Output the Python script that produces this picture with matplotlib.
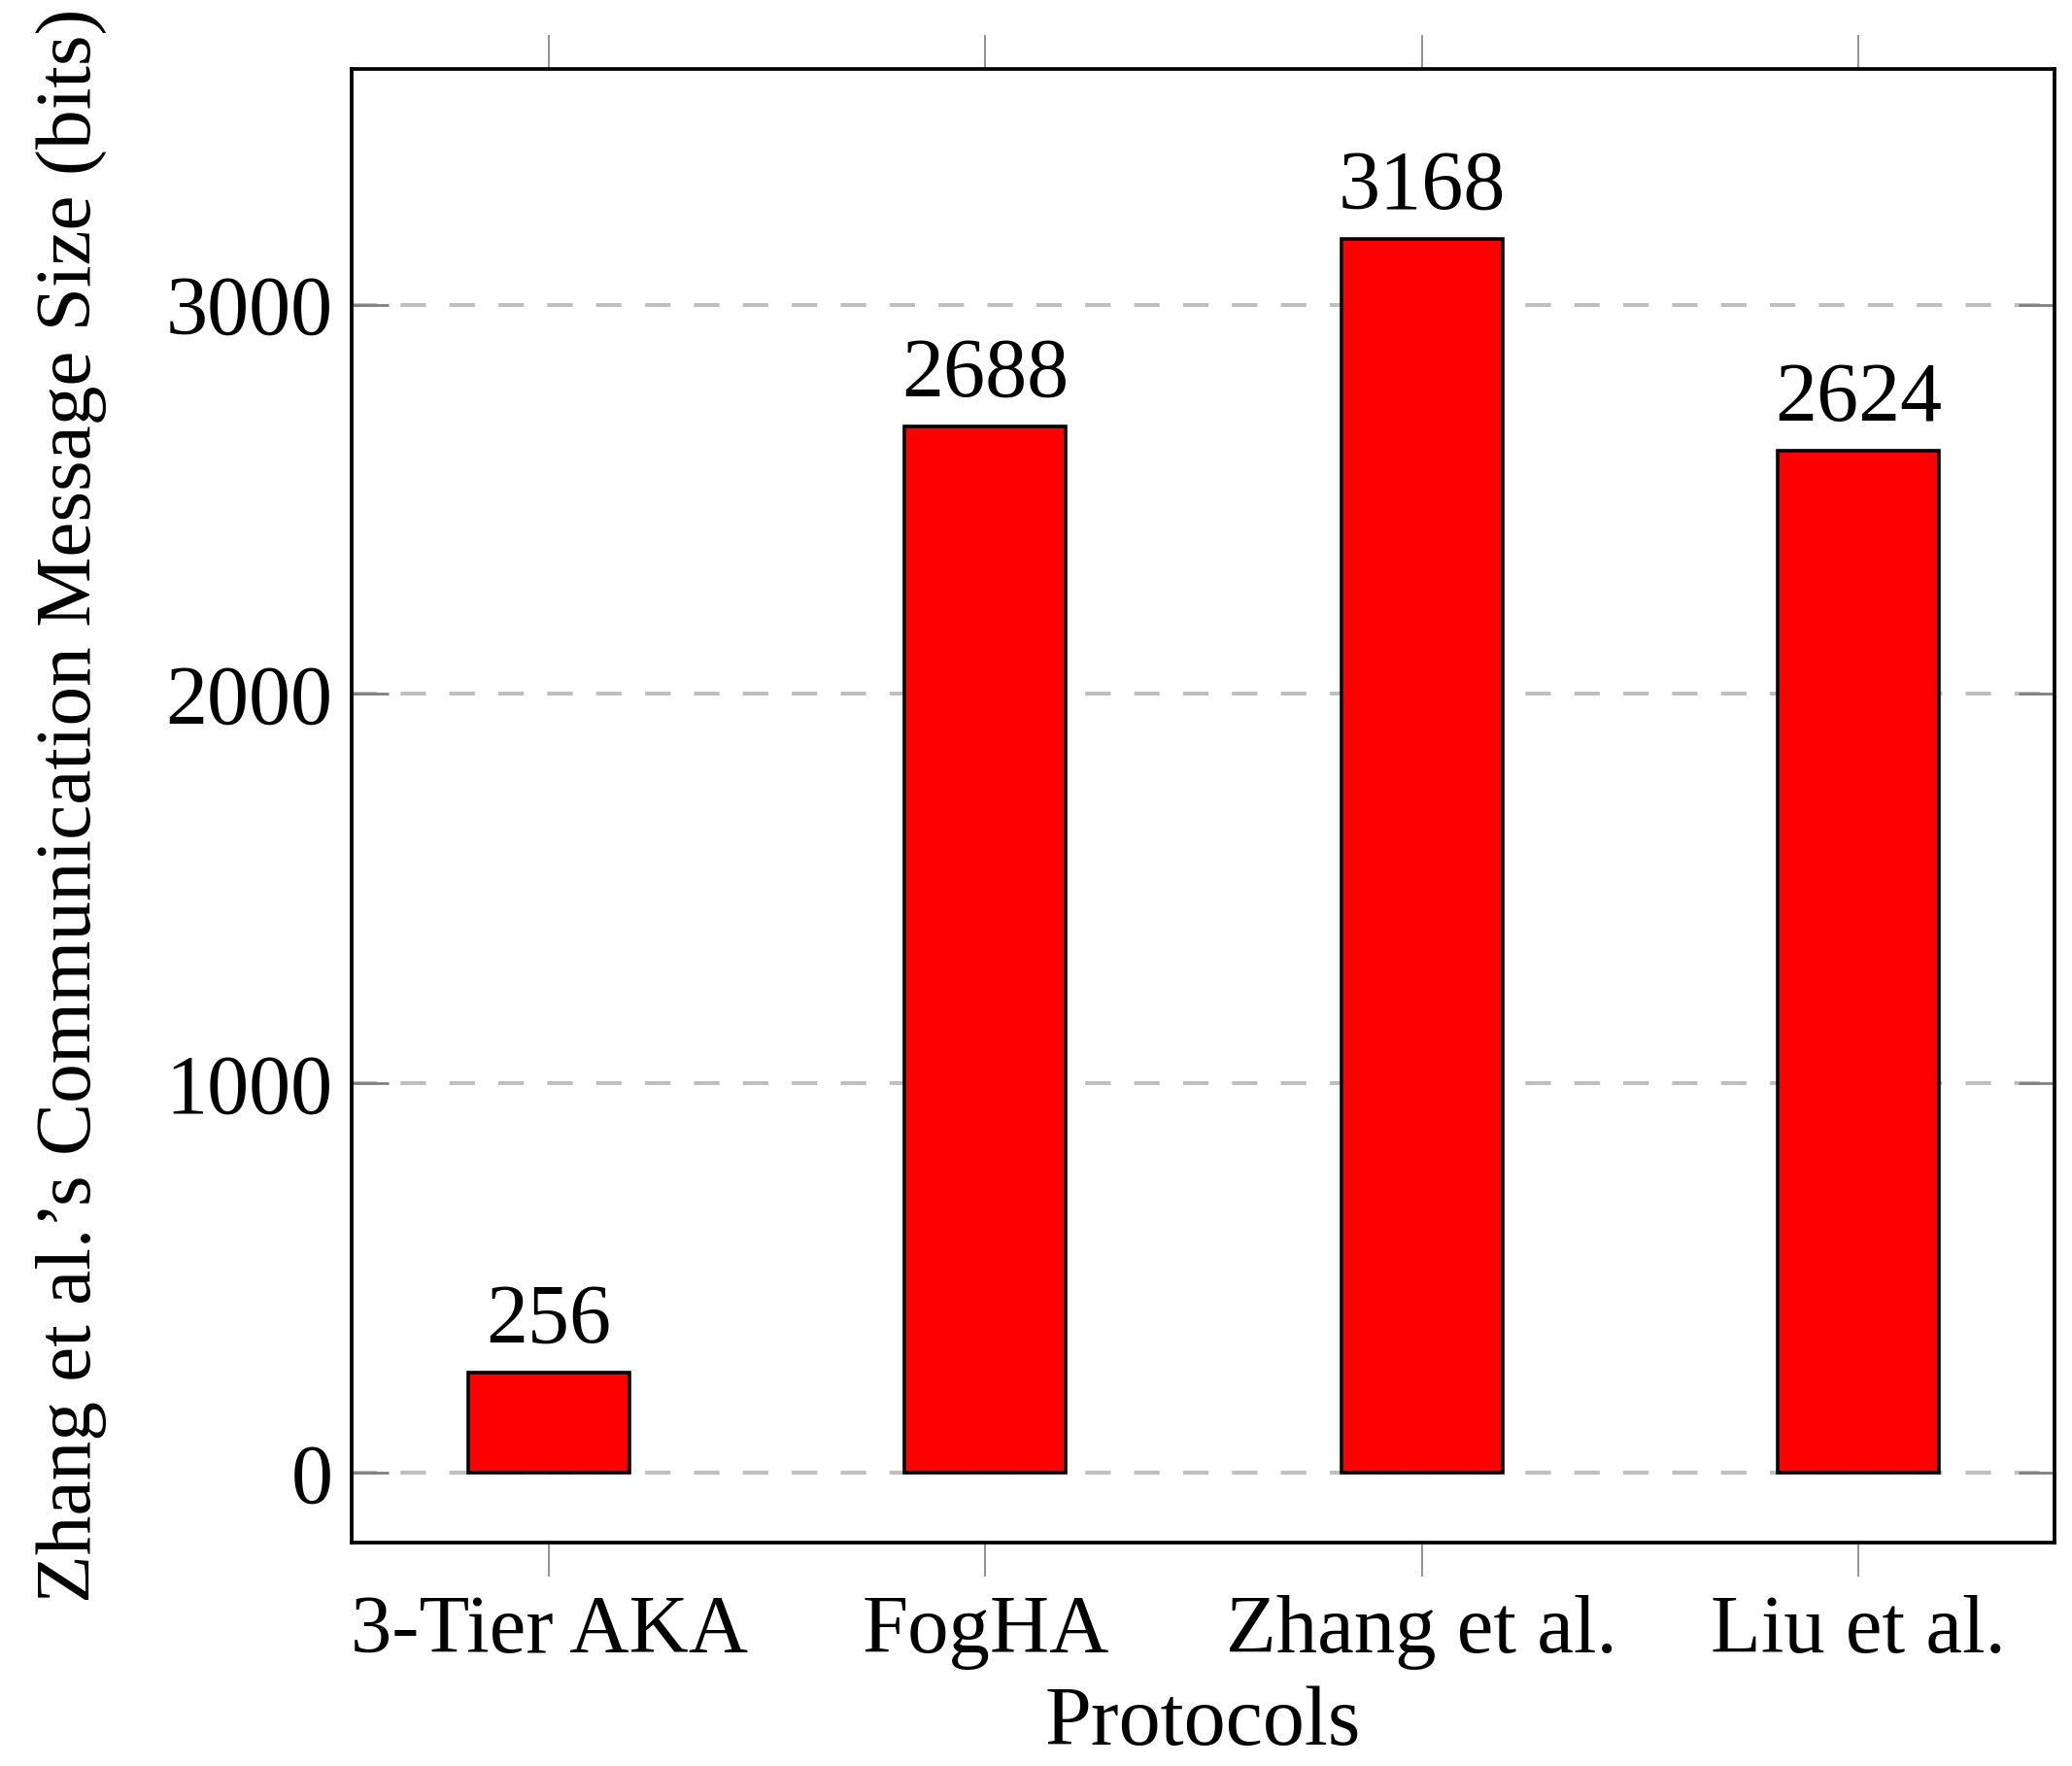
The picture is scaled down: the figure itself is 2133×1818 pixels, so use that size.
import matplotlib.pyplot as plt

# data
protocols = ["3-Tier AKA", "FogHA", "Zhang et al.", "Liu et al."]
msg_bits = [256, 2688, 3168, 2624]
yticks = [0, 1000, 2000, 3000]

plt.rcParams["font.family"] = ["Liberation Serif", "DejaVu Serif"]

fig = plt.figure(figsize=(21.33, 18.18), dpi=100)
ax = fig.add_axes([0.1697, 0.1265, 0.8219, 0.8345])

x = list(range(len(protocols)))
bars = ax.bar(x, msg_bits, width=0.37, color="#ff0000", edgecolor="black",
              linewidth=2.6, zorder=3)

for xi, v in zip(x, msg_bits):
    ax.annotate(str(v), (xi, v), xytext=(0, 9), textcoords="offset points",
                ha="center", va="bottom", fontsize=62)

ax.set_xlim(-0.452, 3.45)
ax.set_ylim(-180, 3606)
ax.set_xticks(x)
ax.set_xticklabels(protocols, fontsize=61)
ax.set_yticks(yticks)
ax.set_yticklabels([str(t) for t in yticks], fontsize=62)

ax.grid(axis="y", color="#bfbfbf", linewidth=2.9, linestyle=(0, (6.5, 6)), zorder=0)
ax.set_axisbelow(True)

ax.tick_params(axis="x", direction="out", top=True, bottom=True, length=25,
               width=1.2, color="#808080", pad=14)
ax.tick_params(axis="y", direction="in", left=True, right=True, length=27,
               width=2, color="#808080", pad=14)

for s in ax.spines.values():
    s.set_linewidth(2.7)
    s.set_zorder(4)

ax.set_xlabel("Protocols", fontsize=62, labelpad=12)
ax.set_ylabel("Zhang et al.\u2019s Communication Message Size (bits)", fontsize=58.5)
ax.yaxis.set_label_coords(-0.144, 0.5)

fig.savefig("out.png", dpi=100)
